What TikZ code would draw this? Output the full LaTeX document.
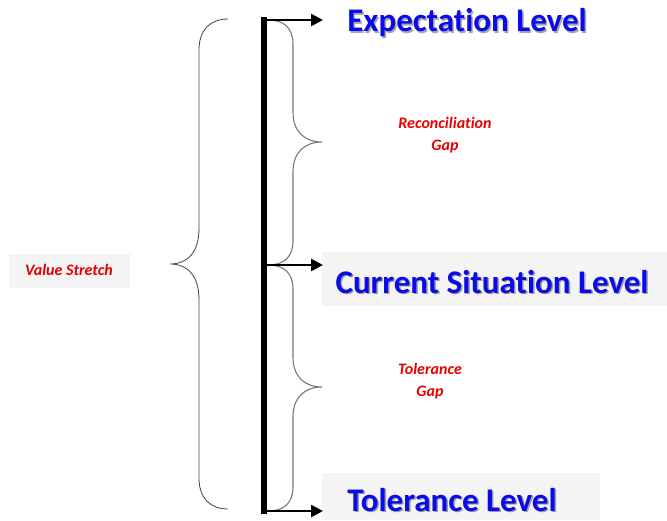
\documentclass[tikz,border=0pt]{standalone}
\usepackage{fontspec}
\setmainfont{Carlito}[Ligatures=NoCommon]
\usetikzlibrary{arrows.meta}
\definecolor{lvlblue}{RGB}{10,10,235}
\definecolor{gapred}{RGB}{230,0,0}
\definecolor{boxgray}{RGB}{244,244,244}
\definecolor{bracegray}{RGB}{120,120,120}
\tikzset{
  lvltext/.style={font=\fontsize{33}{36}\selectfont\bfseries, text=lvlblue, inner sep=0pt},
  lvlshadow/.style={font=\fontsize{33}{36}\selectfont\bfseries, text=black, opacity=0.35, inner sep=0pt},
  gaptext/.style={font=\fontsize{16}{22}\selectfont\bfseries\itshape, text=gapred, align=center, inner sep=0pt},
  graybox/.style={fill=boxgray, draw=none},
  spine/.style={line width=6pt, line cap=rect},
  levelarrow/.style={line width=2.6pt, -{Triangle[length=12pt,width=12pt]}},
  bigbrace/.style={draw=black!75, line width=0.8pt},
  smallbrace/.style={draw=bracegray, line width=1.1pt},
}
\begin{document}
\begin{tikzpicture}[x=1pt,y=-1pt]
\useasboundingbox (0,0) rectangle (667,520);
% background boxes
\fill[graybox] (9,254) rectangle (130,288);
\fill[graybox] (322,252) rectangle (667,306);
\fill[graybox] (322,473) rectangle (600,520);
% big left brace
\draw[bigbrace] (228,19) .. controls (210,19) and (199,30) .. (199,50)
  -- (199,228) .. controls (199,252) and (188,264) .. (170,264)
  .. controls (188,264) and (199,276) .. (199,300)
  -- (199,478) .. controls (199,498) and (210,509) .. (228,509);
% small right braces
\draw[smallbrace] (268,20) .. controls (284,20) and (293,28) .. (293,44)
  -- (293,112) .. controls (293,132) and (305,142) .. (322,142)
  .. controls (305,142) and (293,152) .. (293,172)
  -- (293,241) .. controls (293,257) and (284,265) .. (268,265);
\draw[smallbrace] (268,265) .. controls (284,265) and (293,273) .. (293,289)
  -- (293,357) .. controls (293,377) and (305,387) .. (322,387)
  .. controls (305,387) and (293,397) .. (293,417)
  -- (293,487) .. controls (293,503) and (284,511) .. (268,511);
% spine and arrows
\coordinate (top) at (264,20);
\coordinate (mid) at (264,265);
\coordinate (bot) at (264,511);
\coordinate (toptip) at (323,20);
\coordinate (midtip) at (323,265);
\coordinate (bottip) at (323,511);
\draw[spine] (top) -- (bot);
\draw[levelarrow] ([xshift=-3pt]top) -- (toptip);
\draw[levelarrow] (mid) -- (midtip);
\draw[levelarrow] ([xshift=-3pt]bot) -- (bottip);
% level texts
\node[lvlshadow] at (468.5,24.5) {Expectation Level};
\node[lvltext] (exp) at (467,23) {Expectation Level};
\node[lvlshadow] at (493.5,283.5) {Current Situation Level};
\node[lvltext] (cur) at (492,282) {Current Situation Level};
\node[lvlshadow] at (453.5,501.5) {Tolerance Level};
\node[lvltext] (tol) at (452,500) {Tolerance Level};
% gap texts
\node[gaptext] (vs) at (69,270) {Value Stretch};
\node[gaptext] (rg) at (445,135) {Reconciliation\\Gap};
\node[gaptext] (tg) at (430,381) {Tolerance\\Gap};
\end{tikzpicture}
\end{document}
